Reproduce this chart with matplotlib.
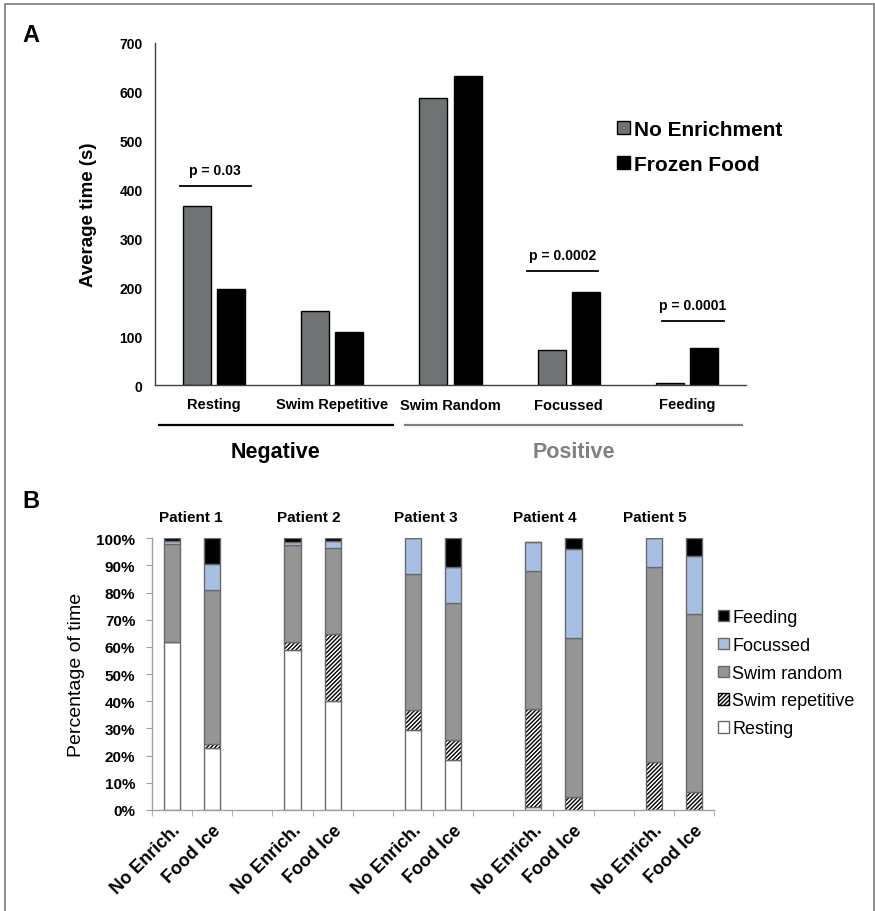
import numpy as np
import matplotlib.pyplot as plt
import matplotlib.transforms as mtransforms
from matplotlib.patches import Patch, Rectangle

plt.rcParams['font.family'] = ['Liberation Sans', 'DejaVu Sans']
plt.rcParams['hatch.linewidth'] = 1.0

# ---- panel A data ----
behaviours = ['Resting', 'Swim Repetitive', 'Swim Random', 'Focussed', 'Feeding']
no_enrichment = [365, 152, 587, 72, 5]
frozen_food = [196, 108, 631, 190, 76]
p_texts = ['p = 0.03', 'p = 0.0002', 'p = 0.0001']
p_x0 = [-0.29, 2.65, 3.79]
p_x1 = [0.31, 3.25, 4.31]
p_y = [406, 232, 130]

# ---- panel B data (percent of time) ----
patients = ['Patient 1', 'Patient 2', 'Patient 3', 'Patient 4', 'Patient 5']
conditions = ['No Enrich.', 'Food Ice']
resting = [62.0, 22.7, 59.0, 40.2, 29.6, 18.3, 1.0, 0.0, 0.0, 0.0]
swim_rep = [0.0, 1.6, 3.0, 24.6, 7.1, 7.5, 36.1, 4.7, 17.7, 6.7]
swim_rand = [35.8, 56.6, 35.4, 31.6, 50.0, 50.3, 51.0, 58.7, 71.6, 65.5]
focussed = [1.2, 9.7, 1.4, 2.5, 13.3, 13.2, 10.7, 32.6, 10.7, 21.2]
feeding = [1.0, 9.4, 1.2, 1.1, 0.0, 10.7, 0.0, 4.0, 0.0, 6.6]
patient_label_x = [0.47, 3.41, 6.33, 9.29, 12.03]

W, H = 875, 912
fig = plt.figure(figsize=(W / 100, H / 100), dpi=100)

# outer frame
fig.patches.append(Rectangle((5 / W, -0.01), 868.5 / W, 1.01 - 5 / H,
                             transform=fig.transFigure, fill=False,
                             edgecolor='#7a7a7a', linewidth=1.2))

# ================= Panel A =================
axA = fig.add_axes([155 / W, 1 - 386 / H, 591 / W, 342.5 / H])
xi = np.arange(len(behaviours))
axA.bar(xi - 0.144, no_enrichment, 0.237, color='#707374', edgecolor='black',
        linewidth=1, label='No Enrichment')
axA.bar(xi + 0.144, frozen_food, 0.237, color='black', edgecolor='black',
        linewidth=1, label='Frozen Food')
axA.set_xlim(-0.5, 4.5)
axA.set_ylim(0, 700)
axA.set_yticks(range(0, 701, 100))
axA.set_xticks(xi, behaviours)
for s in ['top', 'right']:
    axA.spines[s].set_visible(False)
for s in ['left', 'bottom']:
    axA.spines[s].set_color('#404040')
    axA.spines[s].set_linewidth(1)
axA.tick_params(axis='y', length=0, pad=9, labelsize=10)
axA.tick_params(axis='x', length=0, pad=9, labelsize=10.5)
for lab in axA.get_xticklabels() + axA.get_yticklabels():
    lab.set_fontweight('bold')
axA.set_ylabel('Average time (s)', fontsize=13.5, fontweight='bold', labelpad=16)

for t, x0, x1, y in zip(p_texts, p_x0, p_x1, p_y):
    axA.plot([x0, x1], [y, y], color='black', linewidth=1.3)
    axA.text((x0 + x1) / 2, y + 20, t, ha='center', va='bottom',
             fontsize=10, fontweight='bold')

trA = mtransforms.blended_transform_factory(axA.transData, axA.transAxes)
axA.plot([-0.466, 1.513], [-0.117, -0.117], color='black', linewidth=1.6,
         transform=trA, clip_on=False)
axA.plot([1.615, 4.466], [-0.117, -0.117], color='#808080', linewidth=1.6,
         transform=trA, clip_on=False)
axA.text(0.52, -0.193, 'Negative', transform=trA, ha='center', va='center',
         fontsize=15.5, fontweight='bold')
axA.text(3.04, -0.193, 'Positive', transform=trA, ha='center', va='center',
         fontsize=15.5, fontweight='bold', color='#808080')

axA.legend(loc='upper left', bbox_to_anchor=(617 / W, 1 - 121 / H),
           bbox_transform=fig.transFigure, frameon=False,
           prop={'size': 15, 'weight': 'bold'}, handlelength=0.6,
           handleheight=0.6, handletextpad=0.2, labelspacing=0.75,
           borderpad=0, borderaxespad=0)

fig.text(22 / W, 1 - 42 / H, 'A', fontsize=17, fontweight='bold', va='baseline')

# ================= Panel B =================
axB = fig.add_axes([152 / W, 1 - 811 / H, 562 / W, 271.7 / H])
xb = [3 * i + j for i in range(len(patients)) for j in range(len(conditions))]
edge = '#6a6a6a'
layers = [
    (resting, 'white', None),
    (swim_rep, 'white', '////////'),
    (swim_rand, '#959595', None),
    (focussed, '#a7bfe2', None),
    (feeding, 'black', None),
]
bottom = np.zeros(len(xb))
for vals, col, hatch in layers:
    vals = np.array(vals)
    if hatch:
        axB.bar(xb, vals, 0.4, bottom=bottom, color=col, edgecolor='black',
                linewidth=0, hatch=hatch)
        axB.bar(xb, vals, 0.4, bottom=bottom, fill=False, edgecolor=edge,
                linewidth=1)
    else:
        axB.bar(xb, vals, 0.4, bottom=bottom, color=col, edgecolor=edge,
                linewidth=1)
    bottom += vals

axB.set_xlim(-0.5, 13.5)
axB.set_ylim(0, 100)
axB.set_yticks(range(0, 101, 10), [f'{v}%' for v in range(0, 101, 10)])
axB.set_xticks(xb, conditions * len(patients))
axB.set_xticks(np.arange(-0.5, 14, 1), minor=True)
for s in ['top', 'right']:
    axB.spines[s].set_visible(False)
for s in ['left', 'bottom']:
    axB.spines[s].set_color('#a0a0a0')
    axB.spines[s].set_linewidth(1)
axB.tick_params(axis='y', length=4, color='#a0a0a0', pad=8, labelsize=11)
axB.tick_params(axis='x', which='major', length=0, pad=8, labelsize=13)
axB.tick_params(axis='x', which='minor', length=4, color='#a0a0a0')
for lab in axB.get_yticklabels():
    lab.set_fontweight('bold')
for lab in axB.get_xticklabels():
    lab.set_fontweight('bold')
    lab.set_rotation(45)
    lab.set_ha('right')
    lab.set_rotation_mode('anchor')
axB.set_ylabel('Percentage of time', fontsize=14, labelpad=8)

for name, px in zip(patients, patient_label_x):
    axB.text(px, 107.8, name, ha='center', va='center', fontsize=11,
             fontweight='bold')

handles = [
    Patch(facecolor='black', edgecolor=edge, label='Feeding'),
    Patch(facecolor='#a7bfe2', edgecolor=edge, label='Focussed'),
    Patch(facecolor='#959595', edgecolor=edge, label='Swim random'),
    Patch(facecolor='white', edgecolor='black', hatch='////////', label='Swim repetitive'),
    Patch(facecolor='white', edgecolor=edge, label='Resting'),
]
fig.legend(handles=handles, loc='upper left', bbox_to_anchor=(718 / W, 1 - 610 / H),
           frameon=False, fontsize=13, handlelength=0.6, handleheight=0.6,
           handletextpad=0.2, labelspacing=0.6, borderpad=0, borderaxespad=0)

fig.text(22 / W, 1 - 508 / H, 'B', fontsize=17, fontweight='bold', va='baseline')

fig.savefig('out.png', dpi=100)
